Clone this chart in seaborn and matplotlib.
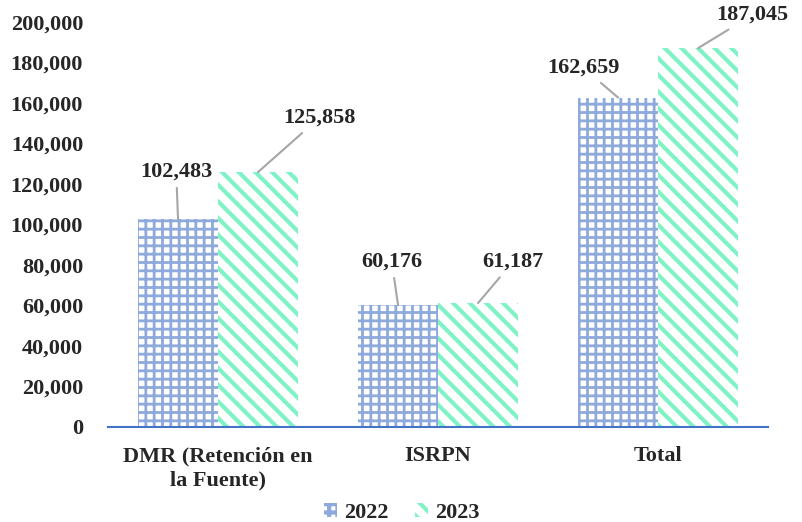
import seaborn as sns
import pandas as pd
import matplotlib
matplotlib.use('Agg')
import matplotlib.pyplot as plt
from matplotlib.ticker import FuncFormatter

# data
categories = ['DMR (Retención en\nla Fuente)', 'ISRPN', 'Total']
years = ['2022', '2023']
values_2022 = [102483, 60176, 162659]
values_2023 = [125858, 61187, 187045]

# where the data labels sit (x in category units, y in value units)
label_pos_2022 = [(-0.19, 126000), (0.79, 81500), (1.66, 177300)]
label_pos_2023 = [(0.46, 152600), (1.34, 81500), (2.43, 203500)]

colors = {'2022': '#8EA9DB', '2023': '#7FF2C6'}
hatches = {'2022': '++', '2023': '\\\\'}
hatch_lw = {'2022': 2.0, '2023': 3.0}

sns.set_style('white')
plt.rcParams['font.family'] = ['Liberation Serif', 'DejaVu Serif']
plt.rcParams['font.weight'] = 'bold'
plt.rcParams['hatch.linewidth'] = 3.0

df = pd.DataFrame({
    'cat': categories * 2,
    'year': ['2022'] * 3 + ['2023'] * 3,
    'val': values_2022 + values_2023,
})

fig = plt.figure(figsize=(8.03, 5.22), dpi=100)
ax = fig.add_axes([0.1345, 0.182, 0.822, 0.776])

sns.barplot(data=df, x='cat', y='val', hue='year', palette=colors,
            width=0.727, saturation=1, legend=False, ax=ax)

for year, cont in zip(years, ax.containers):
    for bar in cont:
        bar.set_facecolor('white')
        bar.set_edgecolor(colors[year])
        bar.set_linewidth(0)
        bar.set_hatch(hatches[year])
        if hasattr(bar, 'set_hatch_linewidth'):
            bar.set_hatch_linewidth(hatch_lw[year])

ax.set_xlim(-0.5, 2.5)
ax.set_ylim(0, 200000)
ax.set_yticks(range(0, 200001, 20000))
ax.yaxis.set_major_formatter(FuncFormatter(lambda v, p: f'{int(v):,}'))
ax.tick_params(axis='both', length=0, labelsize=16)
ax.tick_params(axis='y', pad=18)
ax.tick_params(axis='x', pad=14)
for lab in ax.get_xticklabels() + ax.get_yticklabels():
    lab.set_fontweight('bold')
    lab.set_linespacing(1.3)
ax.set_xlabel('')
ax.set_ylabel('')
for s in ['left', 'right', 'top']:
    ax.spines[s].set_visible(False)
ax.spines['bottom'].set_color('#4472C4')
ax.spines['bottom'].set_linewidth(1.5)

# data labels with gray leader lines
for year, cont, vals, pos in zip(years, ax.containers,
                                 [values_2022, values_2023],
                                 [label_pos_2022, label_pos_2023]):
    for bar, v, (tx, ty) in zip(cont, vals, pos):
        bx = bar.get_x() + bar.get_width() / 2
        ax.annotate(f'{v:,}', xy=(bx, v), xytext=(tx, ty),
                    ha='center', va='center', fontsize=16, fontweight='bold',
                    annotation_clip=False,
                    arrowprops=dict(arrowstyle='-', color='#A6A6A6', lw=1.5,
                                    shrinkA=2, shrinkB=0))

handles = [c[0] for c in ax.containers]
fig.legend(handles, years, loc='lower center', ncol=2, frameon=False,
           bbox_to_anchor=(0.5, -0.04), handlelength=0.6,
           handleheight=0.6, handletextpad=0.3, columnspacing=1.2,
           prop={'weight': 'bold', 'size': 16})

fig.savefig('out.png', dpi=100)
